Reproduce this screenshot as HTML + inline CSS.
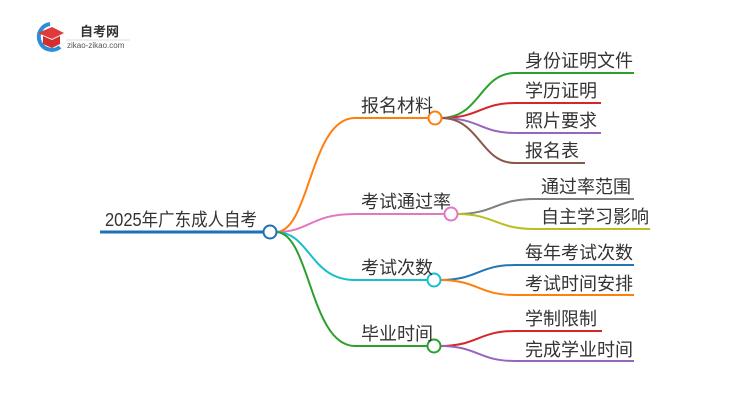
<!DOCTYPE html>
<html><head><meta charset="utf-8"><style>
body{margin:0;background:#fff;}
svg{display:block;}
text{font-family:"Liberation Sans","Noto Sans CJK SC",sans-serif;font-size:18px;fill:#333;}
</style></head><body>
<svg width="750" height="410" viewBox="0 0 750 410" xmlns="http://www.w3.org/2000/svg">
<g fill="none" stroke-width="2">
<path d="M100 232 H264" stroke="#1f6fb5" stroke-width="3"/>
<path d="M276 232 C310 232 310 118 355 118 H429" stroke="#ff7f0e"/>
<path d="M276 232 C310 232 310 214 355 214 H445" stroke="#e377c2"/>
<path d="M276 232 C310 232 310 280 355 280 H428" stroke="#17becf"/>
<path d="M276 232 C310 232 310 346 355 346 H428" stroke="#2ca02c"/>
<path d="M441 118 C480 118 480 73 515 73 H634" stroke="#2ca02c"/>
<path d="M441 118 C480 118 480 103 515 103 H601" stroke="#d62728"/>
<path d="M441 118 C480 118 480 133 515 133 H601" stroke="#9467bd"/>
<path d="M441 118 C480 118 480 163 515 163 H585" stroke="#8c564b"/>
<path d="M457 214 C495 214 495 199 535 199 H634" stroke="#7f7f7f"/>
<path d="M457 214 C495 214 495 229 535 229 H650" stroke="#bcbd22"/>
<path d="M440 280 C478 280 478 265 515 265 H634" stroke="#1f77b4"/>
<path d="M440 280 C478 280 478 295 515 295 H634" stroke="#ff7f0e"/>
<path d="M440 346 C478 346 478 331 515 331 H602" stroke="#d62728"/>
<path d="M440 346 C478 346 478 361 515 361 H634" stroke="#9467bd"/>
<circle cx="270" cy="232" r="6.5" stroke="#1f6fb5" fill="#fff"/>
<circle cx="435" cy="118" r="6.5" stroke="#ff7f0e" fill="#fff"/>
<circle cx="451" cy="214" r="6.5" stroke="#e377c2" fill="#fff"/>
<circle cx="434" cy="280" r="6.5" stroke="#17becf" fill="#fff"/>
<circle cx="434" cy="346" r="6.5" stroke="#2ca02c" fill="#fff"/>
</g>
<text x="105" y="226" textLength="152" lengthAdjust="spacingAndGlyphs">2025年广东成人自考</text>
<text x="361" y="112">报名材料</text>
<text x="361" y="208">考试通过率</text>
<text x="361" y="274">考试次数</text>
<text x="361" y="340">毕业时间</text>
<text x="525" y="67">身份证明文件</text>
<text x="525" y="97">学历证明</text>
<text x="525" y="127">照片要求</text>
<text x="525" y="157">报名表</text>
<text x="541" y="193">通过率范围</text>
<text x="541" y="223">自主学习影响</text>
<text x="525" y="259">每年考试次数</text>
<text x="525" y="290">考试时间安排</text>
<text x="525" y="325">学制限制</text>
<text x="525" y="356">完成学业时间</text>
<path d="M50 24 A13 13 0 1 0 60 47" fill="none" stroke="#2a8fd8" stroke-width="4"/>
<path d="M38 33 L52 27 L64 33 L52 39 Z" fill="#e03a3a"/>
<path d="M43 36 V44 L52 48 L60 44 V36 L52 40 Z" fill="#d42f2f"/>
<text x="80" y="36" style="font-size:13px;font-weight:bold;fill:#333">自考网</text>
<line x1="66" y1="40" x2="130" y2="40" stroke="#ddd" stroke-width="1"/>
<text x="67" y="48" style="font-size:8px;fill:#555">zikao-zikao.com</text>
</svg>
</body></html>
